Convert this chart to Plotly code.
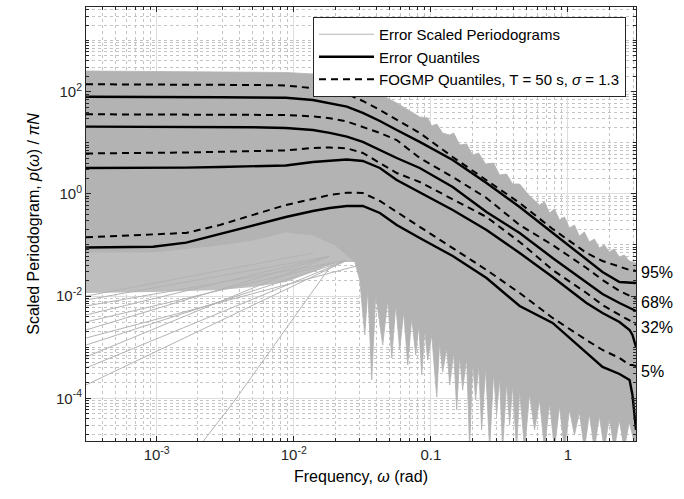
import math
import plotly.graph_objects as go

# ---------------- data ----------------
freq = [3.05e-4, 5.4e-4, 9.4e-4, 1.64e-3, 2.89e-3, 5.04e-3, 8.75e-3, 0.0138, 0.0183, 0.0244,
        0.0319, 0.0425, 0.0564, 0.083, 0.1445, 0.255, 0.445, 0.774, 1.368, 1.79, 2.38, 2.82,
        2.96, 3.1416]

err_q95 = [79.8, 79.8, 78.8, 78.8, 77.7, 77.1, 76.3, 68.8, 60.1, 50.9, 38.3, 26.7, 17.8, 10.4,
           4.61, 1.63, 0.554, 0.172, 0.0509, 0.0296, 0.0189, 0.018, 0.018, 0.018]
err_q68 = [20.7, 20.7, 20.6, 20.4, 20.4, 20.1, 19.5, 17.8, 15.6, 13.2, 10.4, 7.23, 5.04, 3.21,
           1.36, 0.442, 0.172, 0.0557, 0.018, 0.011, 0.00733, 0.00585, 0.00534, 0.0051]
err_q32 = [3.21, 3.21, 3.21, 3.26, 3.36, 3.44, 3.59, 4.21, 4.50, 4.71, 4.40, 3.21, 1.87, 1.09,
           0.484, 0.197, 0.0697, 0.0236, 0.00733, 0.00467, 0.00311, 0.00217, 0.00173, 0.00101]
err_q05 = [0.0893, 0.0914, 0.0926, 0.111, 0.164, 0.235, 0.353, 0.463, 0.530, 0.580, 0.580, 0.423,
           0.246, 0.137, 0.0609, 0.0226, 0.0064, 0.00298, 0.00077, 0.00041, 0.000299, 0.000228,
           0.000116, 2.4e-5]

fog_q95 = [139.6, 139.6, 139.6, 138.3, 137.1, 135.2, 132.2, 118.1, 108.0, 90.2, 65.8, 43.8, 27.9,
           15.6, 5.27, 1.87, 0.664, 0.206, 0.0697, 0.0486, 0.0371, 0.0324, 0.0324, 0.031]
fog_q68 = [36.1, 36.1, 35.9, 35.8, 35.6, 35.3, 35.0, 32.7, 30.2, 26.1, 20.7, 15.6, 11.3, 5.04,
           2.14, 0.831, 0.246, 0.1, 0.0355, 0.0207, 0.0126, 0.01, 0.0092, 0.0088]
fog_q32 = [6.18, 6.23, 6.32, 6.46, 6.67, 6.91, 7.07, 7.91, 8.09, 7.80, 6.32, 4.02, 2.56, 1.71,
           0.795, 0.353, 0.1145, 0.0324, 0.0115, 0.0067, 0.00427, 0.0034, 0.00311, 0.00272]
fog_q05 = [0.1415, 0.150, 0.160, 0.172, 0.246, 0.386, 0.607, 0.795, 0.952, 1.055, 1.041, 0.726,
           0.442, 0.225, 0.0873, 0.0324, 0.0115, 0.00373, 0.00138, 0.000881, 0.000615, 0.000449,
           0.000449, 0.000429]

quantile_labels = ["95%", "68%", "32%", "5%"]
label_levels = [0.0283, 0.00733, 0.00238, 0.000327]

# envelope of the individual error periodograms (upper edge)
env_upper_freq = [3.05e-4, 8.75e-3, 0.0138, 0.0183, 0.0244, 0.0319, 0.0425, 0.0564, 0.083, 0.095,
                  0.1015, 0.1105, 0.122, 0.1374, 0.147, 0.1625, 0.1826, 0.2019, 0.2234, 0.2512,
                  0.2873, 0.3177, 0.3573, 0.3952, 0.4446, 0.5256, 0.6214, 0.6757, 0.7347, 0.7988,
                  0.8686, 0.9444, 1.027, 1.117, 1.214, 1.32, 1.435, 1.561, 1.697, 1.845, 2.006,
                  2.181, 2.372, 2.579, 2.804, 3.1416]
env_upper_vals = [254, 237.5, 222, 203, 169, 129, 90.2, 60.1, 32.1, 30.6,
                  21.3, 23.3, 15.5, 14.2, 15.5, 9.06, 9.48, 5.77, 6.31, 3.85,
                  4.02, 2.34, 2.45, 1.56, 1.56, 0.91, 0.607, 0.694, 0.423, 0.507,
                  0.308, 0.353, 0.215, 0.246, 0.150, 0.18, 0.1145, 0.131, 0.0873, 0.1, 0.0729,
                  0.0835, 0.0582, 0.0637, 0.0486, 0.0445]

# envelope of the individual error periodograms (lower, spiky edge)
env_lower_freq = [3.05e-4, 9.4e-4, 2.89e-3, 5.04e-3, 8.75e-3, 0.0138, 0.0200, 0.0279, 0.0303,
                  0.0330, 0.0347, 0.0371, 0.0396, 0.0446, 0.0485, 0.0519, 0.0555, 0.0593, 0.0634,
                  0.0679, 0.0726, 0.0776, 0.0816, 0.0859, 0.0902, 0.0949, 0.1015, 0.1105, 0.116,
                  0.122, 0.1306, 0.1374, 0.147, 0.1545, 0.1625, 0.1707, 0.1826, 0.192, 0.2019,
                  0.2124, 0.2234, 0.2349, 0.2512, 0.2687, 0.2873, 0.302, 0.3177, 0.334, 0.3573,
                  0.3758, 0.3952, 0.4227, 0.4446, 0.4834, 0.5256, 0.5715, 0.6214, 0.6757, 0.7347,
                  0.7988, 0.8686, 0.9444, 1.027, 1.117, 1.214, 1.32, 1.435, 1.561, 1.697, 1.845,
                  2.006, 2.181, 2.372, 2.579, 2.804, 3.1416]
env_lower_vals = [0.0729, 0.0729, 0.1, 0.125, 0.18, 0.157, 0.1, 0.0465, 0.0207,
                  0.00173, 0.01316, 0.000228, 0.01051, 0.0011, 0.00839, 0.000615, 0.0067, 0.00088,
                  0.00489, 0.000449, 0.00373, 0.000703, 0.00272, 0.000286, 0.00217, 0.000562,
                  0.00173, 0.000106, 0.00121, 0.000327, 0.00096, 0.000182, 0.0008, 5.9e-5,
                  0.000673, 0.000145, 0.000615, 1e-5, 0.000513, 9.26e-5, 0.000449, 2.4e-5,
                  0.000392, 1e-5, 0.000313, 4.71e-5, 0.000249, 1e-5, 0.000199, 3.0e-5, 0.000174,
                  1e-5, 0.000145, 1e-5, 0.000121, 2.4e-5, 9.26e-5, 1e-5, 8.09e-5, 1e-5, 7.06e-5,
                  1e-5, 5.9e-5, 1.91e-5, 5.39e-5, 1e-5, 4.93e-5, 1e-5, 4.5e-5, 1e-5, 4.12e-5,
                  1e-5, 3.76e-5, 1e-5, 3.44e-5, 1e-5]

# sparser band of periodograms below the dense region at low frequency
sparse_freq = [3.05e-4, 9.4e-4, 2.89e-3, 5.04e-3, 8.75e-3, 0.0138, 0.0200, 0.0279]
sparse_lower = [0.0115, 0.0120, 0.01316, 0.01507, 0.0189, 0.0296, 0.0465, 0.0465]
sparse_upper = [0.3, 0.3, 0.3, 0.3, 0.3, 0.3, 0.3, 0.3]

# individual low periodograms fanning out at low frequency
fan_start = [0.01, 0.00839, 0.0064, 0.00427, 0.00311, 0.00217, 0.00151, 0.0011, 0.000643,
             0.000392, 0.000182]
fan_end_freq = [0.014, 0.0183, 0.0244, 0.0183, 0.0244, 0.0183, 0.03, 0.0244, 0.0183, 0.0244, 0.0244]
fan_end_vals = [0.07, 0.06, 0.05, 0.06, 0.05, 0.06, 0.04, 0.05, 0.06, 0.05, 0.05]

steep_freq = [1.90e-3, 3.6e-3, 7.05e-3, 0.0193]
steep_vals = [8.9e-6, 8.1e-5, 1.01e-3, 0.0445]

# ---------------- figure ----------------
GRAY = "rgb(179,179,179)"
AX = "#262626"
FONT = "Liberation Sans, Arial, Helvetica, sans-serif"

fig = go.Figure()

fig.add_trace(go.Scatter(
    x=sparse_freq + sparse_freq[::-1], y=sparse_lower + sparse_upper[::-1],
    fill="toself", fillcolor="rgb(190,190,190)", mode="lines", line=dict(width=0),
    hoverinfo="skip", showlegend=False))

for i, (v0, fe, ve) in enumerate(zip(fan_start, fan_end_freq, fan_end_vals)):
    fig.add_trace(go.Scatter(
        x=[freq[0], fe], y=[v0, ve], mode="lines", line=dict(color=GRAY, width=1),
        name="Error Scaled Periodograms", legendgroup="per", legendrank=1,
        showlegend=(i == 0)))

fig.add_trace(go.Scatter(x=steep_freq, y=steep_vals, mode="lines",
                         line=dict(color=GRAY, width=1), showlegend=False))

fig.add_trace(go.Scatter(
    x=env_upper_freq + env_lower_freq[::-1], y=env_upper_vals + env_lower_vals[::-1],
    fill="toself", fillcolor=GRAY, mode="lines", line=dict(color=GRAY, width=0.8),
    hoverinfo="skip", showlegend=False))

for i, vals in enumerate([fog_q95, fog_q68, fog_q32, fog_q05]):
    fig.add_trace(go.Scatter(
        x=freq, y=vals, mode="lines", line=dict(color="black", width=2, dash="7px,5px"),
        name="FOGMP Quantiles, T = 50 s, <i>σ</i> = 1.3", legendgroup="fog", legendrank=3,
        showlegend=(i == 0)))

for i, vals in enumerate([err_q95, err_q68, err_q32, err_q05]):
    fig.add_trace(go.Scatter(
        x=freq, y=vals, mode="lines", line=dict(color="black", width=2.4),
        name="Error Quantiles", legendgroup="err", legendrank=2, showlegend=(i == 0)))

annotations = []
for lab, lev in zip(quantile_labels, label_levels):
    annotations.append(dict(
        x=1.006, xref="paper", y=math.log10(lev), yref="y", text=lab, showarrow=False,
        xanchor="left", yanchor="middle", font=dict(family=FONT, size=16, color="black")))

axis_common = dict(
    type="log", ticks="inside", ticklen=5, tickcolor=AX, tickwidth=1,
    showline=True, linecolor=AX, linewidth=1, mirror="allticks",
    showgrid=True, gridcolor="#dedede", gridwidth=1, zeroline=False,
    tickfont=dict(family=FONT, size=15, color=AX),
    minor=dict(ticks="inside", ticklen=3, tickcolor=AX, showgrid=True,
               gridcolor="#c4c4c4", griddash="dot", gridwidth=1, dtick="D1"),
)

fig.update_layout(
    width=684, height=499, autosize=False,
    margin=dict(l=86, r=48, t=7, b=58),
    paper_bgcolor="white", plot_bgcolor="white",
    font=dict(family=FONT, color="black"),
    xaxis=dict(axis_common,
               range=[math.log10(3.05e-4), math.log10(math.pi)],
               tickmode="array", tickvals=[1e-3, 1e-2, 0.1, 1],
               ticktext=["10<sup>-3</sup>", "10<sup>-2</sup>", "0.1", "1"],
               title=dict(text="Frequency, <i>ω</i> (rad)",
                          font=dict(family=FONT, size=16, color="black"), standoff=8)),
    yaxis=dict(axis_common,
               range=[-4.836, 3.657],
               tickmode="array", tickvals=[1e-4, 1e-2, 1, 1e2],
               ticktext=["10<sup>-4</sup>", "10<sup>-2</sup>", "10<sup>0</sup>", "10<sup>2</sup>"],
               title=dict(text="Scaled Periodogram, <i>p</i>(<i>ω</i>) / <i>πN</i>",
                          font=dict(family=FONT, size=16, color="black"), standoff=12)),
    legend=dict(x=0.9818, y=0.977, xanchor="right", yanchor="top",
                bgcolor="white", bordercolor=AX, borderwidth=1,
                font=dict(family=FONT, size=15, color="black"), tracegroupgap=0,
                itemwidth=55),
    annotations=annotations,
    showlegend=True,
)

fig.write_html("out.html")
